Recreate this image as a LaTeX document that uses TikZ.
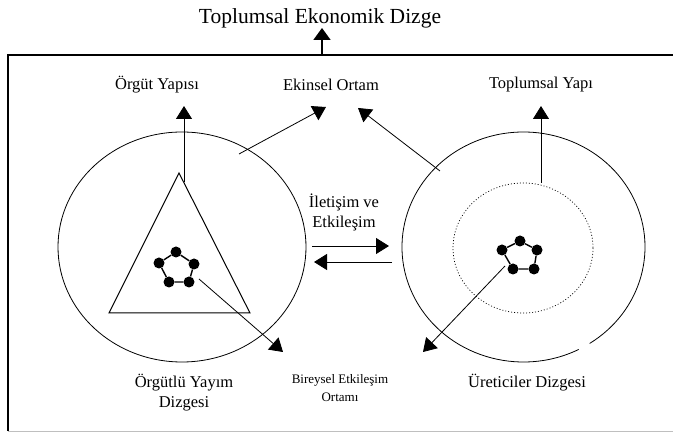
\documentclass[tikz,border=0pt]{standalone}
\usepackage{fontspec}
\setmainfont{Liberation Serif}
\usetikzlibrary{arrows.meta}
\begin{document}
\begin{tikzpicture}[x=1pt,y=-1pt,
  titlef/.style={font=\fontsize{21.5}{24}\selectfont, inner sep=0pt},
  lbl/.style={font=\fontsize{16.5}{20}\selectfont, inner sep=0pt, align=center},
  small/.style={font=\fontsize{13}{18}\selectfont, inner sep=0pt, align=center},
  arr/.style={-{Triangle[length=13pt,width=16pt]}, line width=0.8pt},
  thin/.style={line width=0.8pt},
  pdot/.style={circle, fill=black, inner sep=0pt, minimum size=11pt},
  pedge/.style={line width=1.4pt}]
\useasboundingbox (0,0) rectangle (673,435);

% frame
\draw[line width=1.3pt] (673,55) -- (8,55) -- (8,431);
\draw[gray!50, line width=0.8pt] (8,431) -- (673,431);

% title and its arrow
\node[titlef] (title) at (320,18) {Toplumsal Ekonomik Dizge};
\coordinate (boxtop) at (322,55);
\coordinate (titletip) at (322,28);
\draw[-{Triangle[length=12pt,width=17pt]}, line width=1.8pt] (boxtop) -- (titletip);

% top labels
\node[lbl] (orgut) at (157,85) {Örgüt Yapısı};
\node[lbl] (ekinsel) at (331,85) {Ekinsel Ortam};
\node[lbl] (topyapi) at (541,85) {Toplumsal Yapı};

% circles
\draw[thin] (182,247) ellipse [x radius=124, y radius=115];
\draw[thin] (523.5,247) ++(63:121.5 and 115) arc[start angle=63, end angle=417, x radius=121.5, y radius=115];
\draw[line width=0.7pt, dash pattern=on 1pt off 2pt] (523,248) ellipse [x radius=70, y radius=65];

% triangle
\coordinate (tA) at (179,173);
\coordinate (tB) at (109,313);
\coordinate (tC) at (250,313);
\draw[line width=1pt] (tA) -- (tB) -- (tC) -- cycle;

% vertical arrows
\coordinate (orgstart) at (184,182);
\coordinate (orgtip) at (184,106);
\draw[arr] (orgstart) -- (orgtip);
\coordinate (topstart) at (541,183);
\coordinate (toptip) at (541,106);
\draw[arr] (topstart) -- (toptip);

% arrows to Ekinsel Ortam
\coordinate (ekLstart) at (239,154);
\coordinate (ekLtip) at (326,107);
\draw[arr] (ekLstart) -- (ekLtip);
\coordinate (ekRstart) at (440,171);
\coordinate (ekRtip) at (358,108);
\draw[arr] (ekRstart) -- (ekRtip);

% communication
\node[lbl] (iletisim) at (344,212) {İletişim ve\\Etkileşim};
\coordinate (r1) at (312,246);
\coordinate (r2) at (389,246);
\draw[arr] (r1) -- (r2);
\coordinate (l1) at (392,262);
\coordinate (l2) at (314,262);
\draw[arr] (l1) -- (l2);

% left pentagon
\node[pdot] (a1) at (176,252) {};
\node[pdot] (a2) at (194,264) {};
\node[pdot] (a3) at (189,282) {};
\node[pdot] (a4) at (169,282) {};
\node[pdot] (a5) at (159,263) {};
\draw[pedge] (a1) -- (a2) -- (a3) -- (a4) -- (a5) -- (a1);

% right pentagon
\node[pdot] (b1) at (520,241) {};
\node[pdot] (b2) at (537,250) {};
\node[pdot] (b3) at (534,269) {};
\node[pdot] (b4) at (513,269) {};
\node[pdot] (b5) at (502,250) {};
\draw[pedge] (b1) -- (b2) -- (b3) -- (b4) -- (b5) -- (b1);

% arrows to Bireysel Etkilesim Ortami
\coordinate (bLstart) at (199,279);
\coordinate (bLtip) at (283,352);
\draw[arr] (bLstart) -- (bLtip);
\coordinate (bRstart) at (505,266);
\coordinate (bRtip) at (423,352);
\draw[arr] (bRstart) -- (bRtip);

% bottom labels
\node[lbl] (orgutlu) at (184,393) {Örgütlü Yayım\\Dizgesi};
\node[small] (bireysel) at (340,388) {Bireysel Etkileşim\\Ortamı};
\node[lbl] (uretici) at (527,383) {Üreticiler Dizgesi};
\end{tikzpicture}
\end{document}
